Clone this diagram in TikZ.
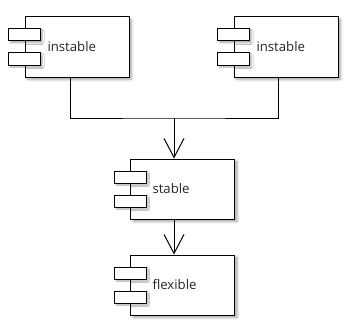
\documentclass[tikz,border=0pt]{standalone}
\usepackage{fontspec}
\setmainfont{Open Sans}
\usetikzlibrary{arrows.meta,shadows.blur}
\begin{document}
\begin{tikzpicture}[x=1pt,y=-1pt,
  line width=1pt,
  body/.style={draw=black, fill=white, minimum width=104, minimum height=60,
    inner sep=0pt,
    blur shadow={shadow xshift=2.5pt, shadow yshift=-2.5pt, shadow blur steps=6,
      shadow blur radius=2.5pt, shadow opacity=35}},
  port/.style={draw=black, fill=white, minimum width=32, minimum height=12,
    inner sep=0pt,
    blur shadow={shadow xshift=2pt, shadow yshift=-2pt, shadow blur steps=4,
      shadow blur radius=1.5pt, shadow opacity=30}},
  label/.style={anchor=west, inner sep=0pt, font=\fontsize{13.2}{15}\selectfont, text=black!85},
  wire/.style={draw=black, line width=1pt},
  dep/.style={wire, -{Straight Barb[length=19pt, width=20pt, line width=1pt]}}
]
\useasboundingbox (0,0) rectangle (353,329);

% component: instable (left)
\node[body] (ia) at (77,47) {};
\node[port] (iap1) at (ia.west |- 0,35) {};
\node[port] (iap2) at (ia.west |- 0,59) {};
\node[label] (iat) at (47,47) {instable};

% component: instable (right)
\node[body] (ib) at (286,47) {};
\node[port] (ibp1) at (ib.west |- 0,35) {};
\node[port] (ibp2) at (ib.west |- 0,59) {};
\node[label] (ibt) at (256,47) {instable};

% component: stable
\node[body] (st) at (182.5,189) {};
\node[port] (stp1) at (st.west |- 0,177) {};
\node[port] (stp2) at (st.west |- 0,201) {};
\node[label] (stt) at (152,189) {stable};

% component: flexible
\node[body] (fl) at (182.5,285) {};
\node[port] (flp1) at (fl.west |- 0,273) {};
\node[port] (flp2) at (fl.west |- 0,297) {};
\node[label] (flt) at (152,285) {flexible};

% routing points of the merged dependency
\coordinate (ja) at (70,77);
\coordinate (jb) at (278,77);
\coordinate (jm) at (174,118);

\draw[wire] (ja) |- (jm) -| (jb);
\draw[dep] (jm) -- (jm |- st.north);
\draw[dep] (st.south -| jm) -- (fl.north -| jm);
\end{tikzpicture}
\end{document}
